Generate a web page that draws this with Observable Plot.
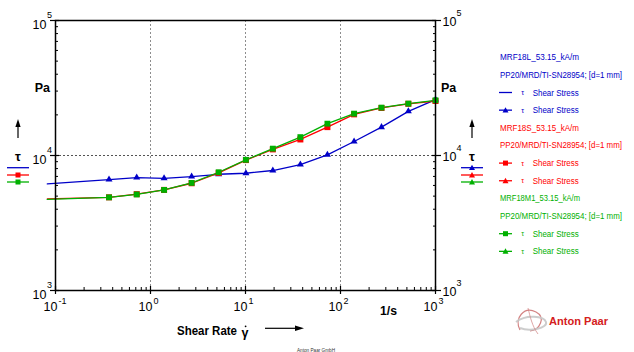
<!DOCTYPE html>
<html><head><meta charset="utf-8">
<script src="https://cdn.jsdelivr.net/npm/d3@7"></script>
<script src="https://cdn.jsdelivr.net/npm/@observablehq/plot@0.6"></script>
<style>
body{margin:0;background:#fff;}
#chart{position:relative;width:634px;height:352px;overflow:hidden;}
</style>
</head><body><div id="chart"></div>
<script>
// ---- data ----
const shearRate = [0.082, 0.366, 0.716, 1.39, 2.71, 5.22, 10.1, 19.4, 37.8, 72.8, 139, 270, 518, 1000];
const stressMRF18L  = [6160, 6630, 6860, 6780, 6980, 7260, 7390, 7740, 8570, 10120, 12700, 16230, 21240, 25950];
const stressMRF18S  = [4770, 4900, 5170, 5560, 6230, 7430, 9250, 11100, 13150, 16230, 20180, 22500, 24150, 25330];
const stressMRF18M1 = [4733, 4898, 5147, 5559, 6266, 7513, 9290, 11240, 13680, 17210, 20420, 22620, 24230, 25640];
const seriesNames = ["MRF18L_53.15_kA/m", "MRF18S_53.15_kA/m", "MRF18M1_53.15_kA/m"];
const geometry = "PP20/MRD/TI-SN28954; [d=1 mm]";
const xTicks = [0.1, 1, 10, 100, 1000];
const xTickExp = ["-1", "0", "1", "2", "3"];
const yTicks = [1000, 10000, 100000];
const yTickExp = ["3", "4", "5"];
const xGrid = [1, 10, 100];
const yGrid = [10000];

// ---- styling ----
const W = 634, H = 352;
const BLUE = "#0000c8", RED = "#ff0000", GREEN = "#00b000";
const FONT = "'Liberation Sans', Arial, Helvetica, sans-serif";

const rows = vals => shearRate.map((x, i) => ({x, y: vals[i], i}));
const dL = rows(stressMRF18L), dS = rows(stressMRF18S), dM = rows(stressMRF18M1);
const markerRows = d => d.filter(r => r.i > 0);

const minor = (lo, hi) => { const t = []; for (let e = lo; e < hi; e++) for (let k = 2; k <= 9; k++) t.push(k * 10 ** e); return t; };
const xMinor = minor(-1, 3);
const yMinor = minor(3, 5);
const xTickRows = xTicks.map((v, i) => ({v, e: xTickExp[i]}));
const yTickRows = yTicks.map((v, i) => ({v, e: yTickExp[i]}));

const chart = Plot.plot({
  width: W, height: H,
  marginLeft: 55, marginRight: 199, marginTop: 20, marginBottom: 62,
  x: {type: "log", domain: [0.1, 1000]},
  y: {type: "log", domain: [1000, 100000]},
  style: {fontFamily: FONT, fontSize: "12px", background: "white", color: "black", overflow: "visible"},
  marks: [
    Plot.ruleX(xGrid, {stroke: "#808080", strokeDasharray: "2,2", strokeWidth: 0.9}),
    Plot.ruleY(yGrid, {stroke: "#404040", strokeDasharray: "2,2", strokeWidth: 0.9}),
    // minor ticks (inward)
    Plot.axisX(xMinor, {anchor: "bottom", tickSize: 3, dy: -3, fill: "none", label: null}),
    Plot.axisY(yMinor, {anchor: "left", tickSize: 3, dx: 3, fill: "none", label: null}),
    Plot.axisY(yMinor, {anchor: "right", tickSize: 3, dx: -3, fill: "none", label: null}),
    // major ticks (crossing)
    Plot.axisX(xTicks, {anchor: "bottom", tickSize: 8, dy: -4, fill: "none", label: null, strokeWidth: 1.2}),
    Plot.axisY(yTicks, {anchor: "left", tickSize: 9, dx: 4, fill: "none", label: null, strokeWidth: 1.2}),
    Plot.axisY(yTicks, {anchor: "right", tickSize: 9, dx: -4, fill: "none", label: null, strokeWidth: 1.2}),
    // tick labels
    Plot.text(xTickRows, {x: "v", frameAnchor: "bottom", text: () => "10", textAnchor: "end", dx: 2, dy: 20, fontSize: 12.5}),
    Plot.text(xTickRows, {x: "v", frameAnchor: "bottom", text: "e", textAnchor: "start", dx: 3, dy: 13, fontSize: 9}),
    Plot.text(yTickRows, {y: "v", frameAnchor: "left", text: () => "10", textAnchor: "end", dx: -9, dy: 4, fontSize: 12.5}),
    Plot.text(yTickRows, {y: "v", frameAnchor: "left", text: "e", textAnchor: "start", dx: -8.5, dy: -5, fontSize: 9}),
    Plot.text(yTickRows, {y: "v", frameAnchor: "right", text: () => "10", textAnchor: "start", dx: 7, dy: 1.5, fontSize: 12.5}),
    Plot.text(yTickRows, {y: "v", frameAnchor: "right", text: "e", textAnchor: "start", dx: 21, dy: -7, fontSize: 9}),
    // data
    Plot.line(dL, {x: "x", y: "y", stroke: BLUE, strokeWidth: 1.3}),
    Plot.line(dS, {x: "x", y: "y", stroke: RED, strokeWidth: 1.3}),
    Plot.line(dM, {x: "x", y: "y", stroke: GREEN, strokeWidth: 1.3}),
    Plot.dot(markerRows(dL), {x: "x", y: "y", symbol: "triangle", r: 2.6, fill: BLUE, stroke: "none"}),
    Plot.dot(markerRows(dS), {x: "x", y: "y", symbol: "square", r: 3.4, fill: RED, stroke: "none"}),
    Plot.dot(markerRows(dM), {x: "x", y: "y", symbol: "square", r: 3.3, fill: GREEN, stroke: "none"}),
    Plot.frame({stroke: "black", strokeWidth: 1.5})
  ]
});
chart.style.position = "absolute";
chart.style.left = "0px";
chart.style.top = "0px";
document.getElementById("chart").appendChild(chart);

// ---- annotations (axis titles, legends, logo) ----
const svg = d3.select(chart);
const g = svg.append("g").attr("font-family", FONT);

function txt(x, y, s, o = {}) {
  const t = g.append("text").attr("x", x).attr("y", y).text(s)
    .attr("font-size", o.size || 12).attr("fill", o.fill || "black")
    .attr("font-weight", o.bold ? "bold" : "normal")
    .attr("text-anchor", o.anchor || "start");
  if (o.len) t.attr("textLength", o.len).attr("lengthAdjust", "spacingAndGlyphs");
  return t;
}
function upArrow(x, yTop, yBot) {
  g.append("line").attr("x1", x).attr("x2", x).attr("y1", yBot).attr("y2", yTop + 6).attr("stroke", "black").attr("stroke-width", 1.2);
  g.append("path").attr("d", `M${x - 2.6},${yTop + 8} L${x},${yTop} L${x + 2.6},${yTop + 8} Z`).attr("fill", "black");
}
function marker(type, x, y, color, s) {
  if (type === "square") g.append("rect").attr("x", x - s / 2).attr("y", y - s / 2).attr("width", s).attr("height", s).attr("fill", color);
  else if (type === "triangle") g.append("path").attr("d", `M${x - s / 2},${y + s * 0.4} L${x},${y - s * 0.5} L${x + s / 2},${y + s * 0.4} Z`).attr("fill", color);
}
function legLine(x1, x2, y, color, m, s) {
  g.append("line").attr("x1", x1).attr("x2", x2).attr("y1", y).attr("y2", y).attr("stroke", color).attr("stroke-width", 1.3);
  if (m) marker(m, (x1 + x2) / 2, y, color, s);
}

// Left axis title
txt(50, 92, "Pa", {bold: true, anchor: "end", size: 12.5});
upArrow(18, 119, 138);
txt(18, 161, "τ", {bold: true, anchor: "middle", size: 13});
legLine(7, 29, 167.7, BLUE, null);
legLine(7, 29, 175, RED, "square", 5);
legLine(7, 29, 182, GREEN, "square", 5);

// Right axis title
txt(441, 92, "Pa", {bold: true, size: 12.5});
upArrow(472, 119, 138);
txt(472, 161, "τ", {bold: true, anchor: "middle", size: 13});
legLine(461, 483, 167.7, BLUE, "triangle", 6);
legLine(461, 483, 175, RED, "triangle", 6);
legLine(461, 483, 182, GREEN, "triangle", 6);

// Right legend column
const colors = [BLUE, RED, GREEN];
const nameLens = [79, 79, 80];
const markers = [[null, "triangle"], ["square", "triangle"], ["square", "triangle"]];
for (let s = 0; s < 3; s++) {
  const base = 57.2 + s * 4 * 17.65;
  const c = colors[s];
  txt(500, base + 3, seriesNames[s], {size: 8.5, fill: c, len: nameLens[s]});
  txt(500, base + 17.65 + 3, geometry, {size: 8.5, fill: c, len: 122});
  for (let k = 0; k < 2; k++) {
    const y = base + (2 + k) * 17.65;
    legLine(499, 512, y, c, markers[s][k], markers[s][k] === "square" ? 5 : 6);
    txt(522.7, y + 2.5, "τ", {size: 7, fill: c, anchor: "middle"});
    txt(532.7, y + 3, "Shear Stress", {size: 8.5, fill: c, len: 46});
  }
}

// X axis title
txt(380, 315, "1/s", {bold: true, size: 12.5, len: 17});
txt(177, 335, "Shear Rate", {bold: true, size: 12.5, len: 60});
txt(241.5, 337, "γ", {bold: true, size: 12.5});
g.append("circle").attr("cx", 245.6).attr("cy", 326.3).attr("r", 0.9).attr("fill", "black");
g.append("line").attr("x1", 265).attr("x2", 296).attr("y1", 328.3).attr("y2", 328.3).attr("stroke", "black").attr("stroke-width", 1.2);
g.append("path").attr("d", "M295,325.6 L304,328.3 L295,331 Z").attr("fill", "black");
txt(316, 351.5, "Anton Paar GmbH", {size: 5, anchor: "middle", len: 38, fill: "#333"});

// Logo
const logo = g.append("g");
logo.append("path").attr("d", "M520,330 C514,318 524,306 536,312 C546,317 540,330 530,331").attr("fill", "none").attr("stroke", "#c86464").attr("stroke-width", 1.2).attr("opacity", 0.8);
logo.append("path").attr("d", "M516,322 C526,314 544,316 546,322 C548,328 530,332 520,328").attr("fill", "none").attr("stroke", "#c8c8c8").attr("stroke-width", 2).attr("opacity", 0.9);
logo.append("path").attr("d", "M528,308 C530,316 532,326 538,334").attr("fill", "none").attr("stroke", "#d08080").attr("stroke-width", 1).attr("opacity", 0.7);
txt(549, 325, "Anton Paar", {bold: true, size: 11, fill: "#d42020", len: 59});
</script>
</body></html>
